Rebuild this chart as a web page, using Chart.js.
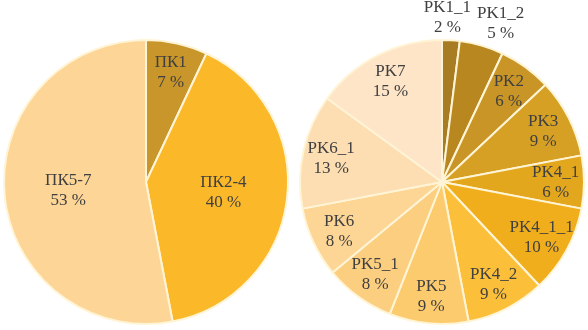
<!DOCTYPE html>
<html>
<head>
<meta charset="utf-8">
<script src="https://cdn.jsdelivr.net/npm/chart.js@4/dist/chart.umd.min.js"></script>
<style>
  html, body { margin: 0; padding: 0; background: #fff; }
  #wrap { position: relative; width: 588px; height: 330px; }
  .box { position: absolute; top: 0; width: 294px; height: 330px; }
</style>
</head>
<body>
<div id="wrap">
  <div class="box" style="left:0"><canvas id="left"></canvas></div>
  <div class="box" style="left:294px"><canvas id="right"></canvas></div>
</div>
<script>
// left pie
const leftLabels = ['ПК1', 'ПК2-4', 'ПК5-7'];
const leftValues = [7, 40, 53];
const leftColors = ['#C8962A', '#FBB829', '#FDD697'];

// right pie
const rightLabels = ['PK1_1', 'PK1_2', 'PK2', 'PK3', 'PK4_1', 'PK4_1_1', 'PK4_2', 'PK5', 'PK5_1', 'PK6', 'PK6_1', 'PK7'];
const rightValues = [2, 5, 6, 9, 6, 10, 9, 9, 8, 8, 13, 15];
const rightColors = ['#A87C22', '#B8871F', '#C99526', '#D6A024', '#E3A71E', '#F0AE1C',
                     '#FBBF3A', '#FCCB6E', '#FCCF80', '#FDD696', '#FDDDB2', '#FEE5C8'];

// draws "name / xx %" on each slice, small slices go outside
const pieLabels = {
    id: 'pieLabels',
    afterDatasetsDraw(chart) {
        const ctx = chart.ctx;
        const meta = chart.getDatasetMeta(0);
        const values = chart.data.datasets[0].data;
        ctx.save();
        ctx.font = '17px "Liberation Serif", "Times New Roman", serif';
        ctx.fillStyle = '#404040';
        ctx.textAlign = 'center';
        ctx.textBaseline = 'middle';
        let lastRight = null;
        meta.data.forEach(function (arc, i) {
            const p = arc.getProps(['x', 'y', 'startAngle', 'endAngle', 'outerRadius'], true);
            const mid = (p.startAngle + p.endAngle) / 2;
            const name = chart.data.labels[i];
            const pct = values[i] + ' %';
            const w = Math.max(ctx.measureText(name).width, ctx.measureText(pct).width);
            let f = 0.8;
            if (values[i] >= 30) f = 0.55;
            const outside = values[i] <= 5;
            if (outside) f = 1.17;
            let cx = p.x + Math.cos(mid) * p.outerRadius * f;
            const cy = p.y + Math.sin(mid) * p.outerRadius * f + 1;
            if (outside) {
                if (lastRight === null) cx -= 5;
                if (lastRight !== null && cx - w / 2 < lastRight + 6) cx = lastRight + 6 + w / 2;
                lastRight = cx + w / 2;
            }
            ctx.fillText(name, cx, cy - 10);
            ctx.fillText(pct, cx, cy + 10);
        });
        ctx.restore();
    }
};

function makePie(id, labels, values, colors, pad) {
    return new Chart(document.getElementById(id), {
        type: 'pie',
        data: {
            labels: labels,
            datasets: [{
                data: values,
                backgroundColor: colors,
                borderColor: '#FFF5D6',
                borderWidth: 2
            }]
        },
        options: {
            responsive: true,
            maintainAspectRatio: false,
            animation: false,
            layout: { padding: pad },
            plugins: {
                legend: { display: false },
                tooltip: { enabled: false }
            }
        },
        plugins: [pieLabels]
    });
}

const leftChart = makePie('left', leftLabels, leftValues, leftColors,
    { left: 3, right: 5, top: 39, bottom: 5 });
const rightChart = makePie('right', rightLabels, rightValues, rightColors,
    { left: 5, right: 3, top: 39, bottom: 5 });
</script>
</body>
</html>
